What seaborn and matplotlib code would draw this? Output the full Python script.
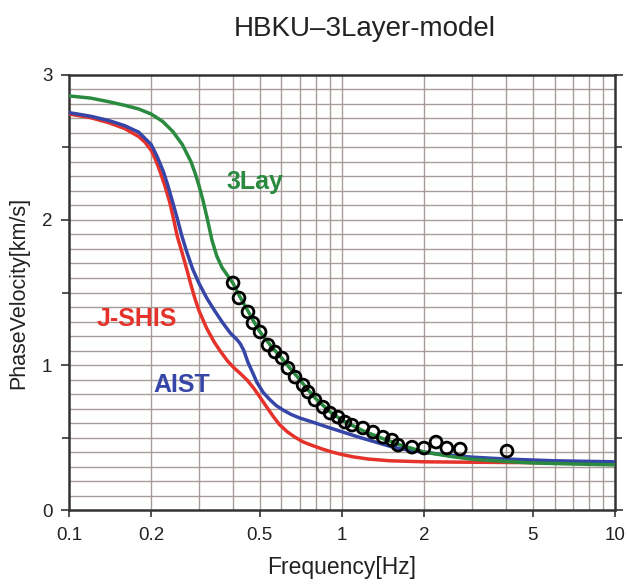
import numpy as np
import pandas as pd
import matplotlib
matplotlib.use("Agg")
import matplotlib.pyplot as plt
from matplotlib.ticker import FixedLocator, NullFormatter, FixedFormatter
import seaborn as sns

# Dispersion curves: phase velocity [km/s] vs frequency [Hz]
freq_3lay = [0.1, 0.12, 0.14, 0.16, 0.18, 0.2, 0.22, 0.24, 0.26, 0.28, 0.29,
             0.30, 0.31, 0.32, 0.334, 0.348, 0.364, 0.38, 0.40, 0.42, 0.45,
             0.475, 0.5, 0.55, 0.6, 0.65, 0.7, 0.75, 0.8, 0.9, 1.0, 1.1, 1.2,
             1.4, 1.63, 2.0, 2.5, 3.0, 4.0, 5.0, 7.0, 10.0]
vel_3lay = [2.855, 2.84, 2.815, 2.79, 2.765, 2.73, 2.68, 2.61, 2.52, 2.40, 2.32,
            2.23, 2.13, 2.02, 1.86, 1.75, 1.67, 1.62, 1.56, 1.48, 1.38,
            1.30, 1.23, 1.13, 1.05, 0.97, 0.90, 0.83, 0.77, 0.68, 0.62, 0.58, 0.545,
            0.495, 0.45, 0.40, 0.37, 0.35, 0.335, 0.325, 0.318, 0.312]

freq_aist = [0.1, 0.12, 0.14, 0.16, 0.18, 0.2, 0.21, 0.221, 0.23, 0.24, 0.25,
             0.259, 0.27, 0.284, 0.30, 0.32, 0.34, 0.366, 0.39, 0.41, 0.423,
             0.437, 0.452, 0.47, 0.488, 0.515, 0.545, 0.575, 0.608, 0.65, 0.70,
             0.8, 0.885, 1.0, 1.165, 1.35, 1.535, 1.8, 2.29, 3.0, 4.0, 6.0, 10.0]
vel_aist = [2.74, 2.715, 2.685, 2.65, 2.605, 2.52, 2.44, 2.34, 2.24, 2.12, 2.00,
            1.89, 1.78, 1.66, 1.56, 1.46, 1.38, 1.29, 1.22, 1.18, 1.15,
            1.10, 1.02, 0.95, 0.88, 0.81, 0.76, 0.72, 0.69, 0.66, 0.635,
            0.60, 0.572, 0.54, 0.50, 0.465, 0.434, 0.41, 0.385, 0.365, 0.352, 0.34, 0.333]

freq_jshis = [0.1, 0.12, 0.14, 0.16, 0.18, 0.19, 0.2, 0.207, 0.215, 0.225, 0.234,
              0.242, 0.249, 0.26, 0.27, 0.28, 0.289, 0.30, 0.32, 0.34, 0.357,
              0.38, 0.40, 0.425, 0.45, 0.475, 0.50, 0.53, 0.56, 0.59, 0.63, 0.67,
              0.72, 0.78, 0.85, 0.92, 1.0, 1.1, 1.25, 1.5, 2.0, 3.0, 5.0, 10.0]
vel_jshis = [2.73, 2.705, 2.67, 2.63, 2.575, 2.535, 2.48, 2.42, 2.34, 2.23, 2.12,
             2.00, 1.89, 1.77, 1.66, 1.55, 1.46, 1.37, 1.25, 1.16, 1.10,
             1.03, 0.985, 0.94, 0.895, 0.84, 0.78, 0.71, 0.645, 0.59, 0.54, 0.505,
             0.47, 0.445, 0.42, 0.40, 0.383, 0.367, 0.352, 0.34, 0.333, 0.33, 0.327, 0.325]

# Observed phase velocities
obs_freq = [0.399, 0.4195, 0.4525, 0.472, 0.501, 0.536, 0.568, 0.603, 0.634, 0.673,
            0.720, 0.751, 0.796, 0.852, 0.904, 0.967, 1.025, 1.088, 1.193, 1.299,
            1.413, 1.525, 1.604, 1.805, 1.997, 2.21, 2.42, 2.71, 4.02]
obs_vel = [1.566, 1.462, 1.366, 1.290, 1.228, 1.138, 1.090, 1.048, 0.979, 0.917,
           0.862, 0.814, 0.759, 0.710, 0.669, 0.641, 0.607, 0.586, 0.566, 0.538,
           0.503, 0.483, 0.448, 0.434, 0.428, 0.469, 0.428, 0.421, 0.407]

x_ticks = [0.1, 0.2, 0.5, 1, 2, 5, 10]
x_tick_labels = ["0.1", "0.2", "0.5", "1", "2", "5", "10"]
y_ticks = [0, 1, 2, 3]

sns.set_theme(style="white")
plt.rcParams["font.family"] = ["Liberation Sans", "DejaVu Sans"]

fig = plt.figure(figsize=(6.27, 5.85), dpi=100)
ax = fig.add_axes([0.110, 0.128, 0.871, 0.744])

c_red = "#e5322b"
c_blue = "#3646a8"
c_green = "#2a8a3f"

curves = [
    (freq_jshis, vel_jshis, c_red),
    (freq_aist, vel_aist, c_blue),
    (freq_3lay, vel_3lay, c_green),
]
for f, v, col in curves:
    df = pd.DataFrame({"f": f, "v": v})
    sns.lineplot(data=df, x="f", y="v", ax=ax, color=col, lw=2.5, sort=False,
                 zorder=3)

obs = pd.DataFrame({"f": obs_freq, "v": obs_vel})
sns.scatterplot(data=obs, x="f", y="v", ax=ax, marker="o", s=72,
                facecolor="none", edgecolor="black", linewidth=2.0, zorder=5)

ax.set_xscale("log")
ax.set_xlim(0.1, 10)
ax.set_ylim(0, 3)

# grid: every 0.1 km/s and every integer multiple per decade
grid_col = "#a69d99"
for yv in np.arange(1, 30) / 10:
    ax.axhline(yv, color=grid_col, lw=1.0, zorder=1)
for dec in [0.1, 1.0]:
    for m in range(1, 10):
        if dec * m > 0.1:
            ax.axvline(dec * m, color=grid_col, lw=1.0, zorder=1)

ax.xaxis.set_major_locator(FixedLocator(x_ticks))
ax.xaxis.set_major_formatter(FixedFormatter(x_tick_labels))
ax.xaxis.set_minor_locator(FixedLocator([]))
ax.xaxis.set_minor_formatter(NullFormatter())
ax.yaxis.set_major_locator(FixedLocator(y_ticks))
ax.yaxis.set_minor_locator(FixedLocator([0.5, 1.5, 2.5]))

ax.tick_params(axis="both", which="both", direction="out", colors="#333333",
               labelcolor="#222222", labelsize=13.5, width=1.2)
ax.tick_params(axis="y", which="major", length=6, right=True, left=True, pad=6)
ax.tick_params(axis="y", which="minor", length=5, right=True, left=True)
ax.tick_params(axis="x", which="major", length=5, bottom=True, pad=7)

for s in ax.spines.values():
    s.set_color("#333333")
    s.set_linewidth(1.8)

ax.set_xlabel("Frequency[Hz]", fontsize=16.5, color="#222222")
ax.set_ylabel("PhaseVelocity[km/s]", fontsize=15.5, color="#222222")
ax.xaxis.set_label_coords(0.5, -0.105)
ax.yaxis.set_label_coords(-0.073, 0.5)
fig.text(0.581, 0.951, "HBKU\u20133Layer-model", fontsize=20, ha="center",
         va="center", color="#222222")

ax.text(0.48, 2.26, "3Lay", color=c_green, fontsize=18, fontweight="bold",
        ha="center", va="center", zorder=6)
ax.text(0.177, 1.32, "J-SHIS", color=c_red, fontsize=18, fontweight="bold",
        ha="center", va="center", zorder=6)
ax.text(0.259, 0.86, "AIST", color=c_blue, fontsize=18, fontweight="bold",
        ha="center", va="center", zorder=6)

fig.savefig("out.png", dpi=100, facecolor="white")
